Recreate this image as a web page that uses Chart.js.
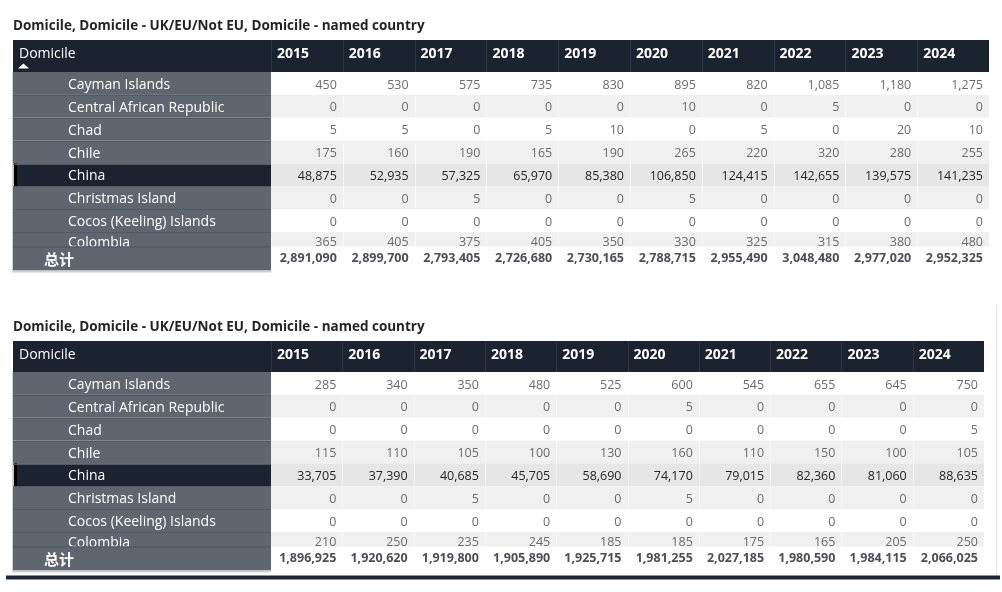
<!DOCTYPE html>
<html>
<head>
<meta charset="utf-8">
<script src="https://cdn.jsdelivr.net/npm/chart.js@4.4.1/dist/chart.umd.min.js"></script>
<style>
  body { margin: 0; background: #fff; width: 1002px; height: 592px; overflow: hidden; position: relative; }
  .caixa { position: absolute; left: 0; width: 1002px; }
  canvas { display: block; }
</style>
</head>
<body>
<div class="caixa" style="top:0"><canvas id="tabela1" width="1002" height="301"></canvas></div>
<div class="caixa" style="top:301px"><canvas id="tabela2" width="1002" height="291"></canvas></div>
<script>
var titulo = 'Domicile, Domicile - UK/EU/Not EU, Domicile - named country';
var cabecalho = 'Domicile';
var rotuloTotal = '总计';
var anos = ['2015', '2016', '2017', '2018', '2019', '2020', '2021', '2022', '2023', '2024'];
var paises = ['Cayman Islands', 'Central African Republic', 'Chad', 'Chile', 'China',
  'Christmas Island', 'Cocos (Keeling) Islands', 'Colombia'];

// first table
var cayman1 = [450, 530, 575, 735, 830, 895, 820, 1085, 1180, 1275];
var centralAfrica1 = [0, 0, 0, 0, 0, 10, 0, 5, 0, 0];
var chad1 = [5, 5, 0, 5, 10, 0, 5, 0, 20, 10];
var chile1 = [175, 160, 190, 165, 190, 265, 220, 320, 280, 255];
var china1 = [48875, 52935, 57325, 65970, 85380, 106850, 124415, 142655, 139575, 141235];
var christmas1 = [0, 0, 5, 0, 0, 5, 0, 0, 0, 0];
var cocos1 = [0, 0, 0, 0, 0, 0, 0, 0, 0, 0];
var colombia1 = [365, 405, 375, 405, 350, 330, 325, 315, 380, 480];
var total1 = [2891090, 2899700, 2793405, 2726680, 2730165, 2788715, 2955490, 3048480, 2977020, 2952325];

// second table
var cayman2 = [285, 340, 350, 480, 525, 600, 545, 655, 645, 750];
var centralAfrica2 = [0, 0, 0, 0, 0, 5, 0, 0, 0, 0];
var chad2 = [0, 0, 0, 0, 0, 0, 0, 0, 0, 5];
var chile2 = [115, 110, 105, 100, 130, 160, 110, 150, 100, 105];
var china2 = [33705, 37390, 40685, 45705, 58690, 74170, 79015, 82360, 81060, 88635];
var christmas2 = [0, 0, 5, 0, 0, 5, 0, 0, 0, 0];
var cocos2 = [0, 0, 0, 0, 0, 0, 0, 0, 0, 0];
var colombia2 = [210, 250, 235, 245, 185, 185, 175, 165, 205, 250];
var total2 = [1896925, 1920620, 1919800, 1905890, 1925715, 1981255, 2027185, 1980590, 1984115, 2066025];

var fonte = '"Open Sans", "DejaVu Sans", sans-serif';
var fonteCJK = '"Noto Sans CJK SC", sans-serif';
var linhaSelecionada = 'China';

function formatar(n) {
  return n.toLocaleString('en-US');
}

// draws the whole table grid on top of the (invisible) scatter points
var pluginTabela = {
  id: 'tabela',
  afterDraw: function (chart, args, opts) {
    var ctx = chart.ctx;
    var ca = chart.chartArea;
    var xs = chart.scales.x;
    var ys = chart.scales.y;
    var esq = ys.left;
    var colW = xs.getPixelForValue(1) - xs.getPixelForValue(0);
    var rowH = ys.getPixelForValue(1) - ys.getPixelForValue(0);
    var ultima = paises.length - 1;

    ctx.save();

    // header band
    ctx.fillStyle = '#1b2230';
    ctx.fillRect(esq, xs.top, ca.right - esq, xs.bottom - xs.top);
    ctx.fillStyle = '#2e3646';
    for (var i = 0; i < anos.length; i++) {
      var xe = Math.round(xs.getPixelForValue(i) - colW / 2);
      ctx.fillRect(xe, xs.top, 1, xs.bottom - xs.top);
    }
    ctx.fillStyle = '#ffffff';
    ctx.textBaseline = 'middle';
    ctx.textAlign = 'left';
    ctx.font = '14px ' + fonte;
    ctx.fillText(cabecalho, esq + 6, xs.top + 14.5);
    ctx.font = 'bold 14px ' + fonte;
    anos.forEach(function (a, i) {
      ctx.fillText(a, xs.getPixelForValue(i) - colW / 2 + 6, xs.top + 14.5);
    });
    if (opts.seta) {
      ctx.beginPath();
      ctx.moveTo(esq + 5, xs.top + 28.5);
      ctx.lineTo(esq + 16, xs.top + 28.5);
      ctx.lineTo(esq + 10.5, xs.top + 23.5);
      ctx.closePath();
      ctx.fill();
    }

    // body rows
    paises.forEach(function (p, r) {
      var yc = ys.getPixelForValue(r);
      var topo = yc - rowH / 2;
      var sel = p === linhaSelecionada;
      ctx.fillStyle = sel ? '#e6e6e6' : (r % 2 === 0 && r < 4) || r === 6 ? '#ffffff' : '#f0f0f0';
      ctx.fillRect(ca.left, topo, ca.right - ca.left, rowH);
      ctx.fillStyle = sel ? '#1b2230' : '#5f6670';
      ctx.fillRect(esq, topo, ca.left - esq, rowH);
      if (sel) {
        ctx.fillStyle = '#c9c9c9';
        ctx.fillRect(esq, topo, 1, rowH);
        ctx.fillStyle = '#000000';
        ctx.fillRect(esq + 1, topo, 3, rowH);
      }
      if (r > 0) {
        ctx.fillStyle = '#535a64';
        ctx.fillRect(esq, Math.round(topo), ca.left - esq, 1);
      }
      // faint column seams in data area
      ctx.fillStyle = 'rgba(255,255,255,0.55)';
      for (var c = 1; c < anos.length; c++) {
        ctx.fillRect(Math.round(xs.getPixelForValue(c) - colW / 2), topo, 1, rowH);
      }
      ctx.fillStyle = '#ffffff';
      ctx.textAlign = 'left';
      ctx.font = '14px ' + fonte;
      ctx.fillText(p, esq + 55, yc + (r === ultima ? -1 : 1.5));
    });

    // values, placed at the scatter points
    chart.data.datasets.forEach(function (ds, d) {
      var meta = chart.getDatasetMeta(d);
      var sel = ds.label === linhaSelecionada;
      ctx.font = '12.5px ' + fonte;
      ctx.fillStyle = sel ? '#252423' : '#6b6b6b';
      ctx.textAlign = 'right';
      meta.data.forEach(function (pt, i) {
        ctx.fillText(formatar(ds.data[i].v), pt.x + colW / 2 - 6, pt.y + (d === ultima ? -1.5 : 1.5));
      });
    });

    // sticky total row, overlapping the last partly scrolled row
    var tTopo = ca.bottom - 8.5;
    var tAlt = 24;
    ctx.fillStyle = '#ffffff';
    ctx.fillRect(ca.left, tTopo, ca.right - ca.left, tAlt);
    ctx.fillStyle = '#5f6670';
    ctx.fillRect(esq, tTopo, ca.left - esq, tAlt);
    ctx.fillStyle = '#4f5660';
    ctx.fillRect(esq, tTopo, ca.left - esq, 1);
    ctx.fillStyle = '#d2d2d2';
    ctx.fillRect(esq, tTopo + tAlt, ca.left - esq, 2);
    ctx.fillRect(esq - 1, xs.bottom, 1, tTopo + tAlt - xs.bottom + 2);
    ctx.fillStyle = '#ffffff';
    ctx.textAlign = 'left';
    ctx.font = 'bold 15px ' + fonteCJK;
    ctx.fillText(rotuloTotal, esq + 31, tTopo + 12.5);
    ctx.font = 'bold 12.5px ' + fonte;
    ctx.fillStyle = '#4a4f57';
    ctx.textAlign = 'right';
    opts.totais.forEach(function (v, i) {
      ctx.fillText(formatar(v), xs.getPixelForValue(i) + colW / 2 - 6, tTopo + 11.5);
    });

    if (opts.rodape) {
      ctx.fillStyle = '#e4e4e4';
      ctx.fillRect(996, 4, 1, tTopo + tAlt + 2);
      ctx.fillStyle = '#1e2532';
      ctx.fillRect(6, tTopo + tAlt + 5, 994, 4);
    }
    ctx.restore();
  }
};

function criarTabela(canvasId, linhas, totais, extra) {
  var datasets = paises.map(function (p, r) {
    return {
      label: p,
      data: anos.map(function (a, i) {
        return { x: a, y: p, v: linhas[r][i] };
      }),
      pointRadius: 0,
      pointHoverRadius: 0
    };
  });

  new Chart(document.getElementById(canvasId), {
    type: 'scatter',
    data: { datasets: datasets },
    options: {
      responsive: false,
      animation: false,
      events: [],
      layout: { padding: { left: 13, right: extra.direita, top: 0, bottom: extra.baixo } },
      scales: {
        x: {
          type: 'category',
          labels: anos,
          position: 'top',
          offset: true,
          grid: { display: false },
          border: { display: false },
          ticks: { display: false },
          afterFit: function (s) { s.height = extra.cabAlt; }
        },
        y: {
          type: 'category',
          labels: paises,
          offset: true,
          grid: { display: false },
          border: { display: false },
          ticks: { display: false },
          afterFit: function (s) { s.width = 258; }
        }
      },
      plugins: {
        legend: { display: false },
        tooltip: { enabled: false },
        title: {
          display: true,
          text: titulo,
          align: 'start',
          color: '#252423',
          font: { family: fonte, size: 13.5, weight: 'bold' },
          padding: { top: 18, bottom: 5.8 }
        },
        tabela: { totais: totais, seta: extra.seta, rodape: extra.rodape }
      }
    },
    plugins: [pluginTabela]
  });
}

criarTabela('tabela1',
  [cayman1, centralAfrica1, chad1, chile1, china1, christmas1, cocos1, colombia1],
  total1, { direita: 13, baixo: 46, cabAlt: 32, seta: true, rodape: false });

criarTabela('tabela2',
  [cayman2, centralAfrica2, chad2, chile2, china2, christmas2, cocos2, colombia2],
  total2, { direita: 18, baixo: 37, cabAlt: 31, seta: false, rodape: true });
</script>
</body>
</html>
